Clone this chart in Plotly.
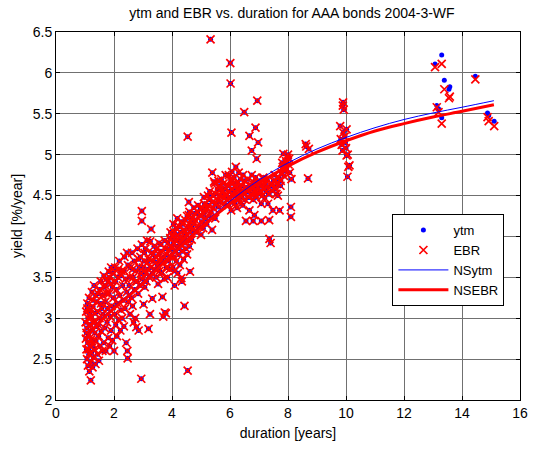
import plotly.graph_objects as go

# ---- scatter data (duration [years], yield [%/year]) ----
dur_a = [1.02,1.03,1.04,1.05,1.06,1.07,1.08,1.09,1.10,1.11,1.12,1.13,1.14,1.15,1.16,1.17,1.18,1.19,1.20,1.21,1.22,1.23,1.24,1.25,1.26,1.27,1.28,1.29,1.30,1.31,1.32,1.34,1.35,1.36,1.38,1.40,1.41,1.43,1.45,1.47,1.48,1.50,1.52,1.54,1.56,1.58,1.60]
yld_a = [2.95,2.75,3.08,2.62,2.88,2.50,3.18,2.70,2.42,3.00,2.80,2.56,3.25,2.35,2.92,2.66,3.10,2.46,2.24,2.74,3.02,2.58,3.32,2.86,2.40,2.68,3.14,2.52,2.96,3.40,2.62,2.82,3.06,2.44,2.72,3.20,2.90,2.56,3.30,2.78,2.48,3.00,2.66,3.45,2.84,3.12,2.60]

dur_b = [1.62,1.64,1.66,1.68,1.70,1.72,1.74,1.76,1.78,1.80,1.82,1.83,1.85,1.87,1.89,1.90,1.92,1.94,1.96,1.98,2.00,2.02,2.04,2.06,2.08,2.10,2.12,2.14,2.16,2.18,2.20,2.22,2.24,2.26,2.28,2.30,2.32,2.34,2.36,2.38,2.40,2.42,2.44,2.46,2.47,2.48,2.50]
yld_b = [3.05,2.70,3.38,2.88,3.20,2.60,3.48,2.95,3.12,2.76,3.57,3.30,2.66,3.02,3.42,2.85,3.15,2.73,3.55,3.25,2.60,3.05,3.62,2.92,3.35,2.78,3.18,3.50,2.98,3.70,3.28,2.85,3.10,3.58,3.00,3.40,3.22,2.90,3.75,3.12,3.48,2.70,3.32,2.60,2.51,3.65,3.20]

dur_c = [2.52,2.55,2.57,2.60,2.62,2.64,2.66,2.68,2.70,2.71,2.73,2.75,2.77,2.79,2.81,2.83,2.85,2.87,2.89,2.91,2.93,2.94,2.96,2.96,2.96,2.98,3.00,3.02,3.04,3.06,3.08,3.10,3.12,3.14,3.16,3.19,3.20,3.22,3.24,3.25,3.26,3.28,3.30,3.32,3.33,3.35,3.38]
yld_c = [3.40,3.05,3.62,3.25,3.80,3.15,3.50,2.95,3.70,3.35,3.00,3.58,2.89,3.45,3.85,3.30,2.85,3.62,3.40,3.75,3.55,2.26,4.31,4.19,3.90,3.48,3.62,3.17,3.70,3.38,3.85,3.55,3.45,3.95,3.60,2.87,3.72,3.50,3.05,3.94,3.62,4.09,3.80,3.24,3.55,3.70,3.88]

dur_d = [3.40,3.42,3.45,3.47,3.50,3.52,3.55,3.57,3.60,3.62,3.62,3.64,3.67,3.68,3.70,3.72,3.74,3.75,3.77,3.79,3.80,3.82,3.84,3.86,3.88,3.90,3.92,3.94,3.96,3.98]
yld_d = [3.60,3.75,3.50,3.85,3.65,3.42,3.78,3.58,3.70,3.90,3.82,3.55,3.26,3.68,3.02,3.75,3.48,3.07,3.85,3.06,3.62,3.78,3.50,3.92,3.70,3.84,3.60,3.98,3.75,3.88]

dur_e = [4.00,4.02,4.03,4.05,4.07,4.08,4.09,4.10,4.12,4.14,4.15,4.17,4.19,4.20,4.22,4.24,4.25,4.27,4.29,4.30,4.32,4.34,4.35,4.37,4.39,4.40,4.42,4.43,4.44,4.46,4.48,4.50,4.52,4.54,4.55,4.57,4.58,4.58,4.60,4.62,4.63,4.65,4.68,4.70,4.72,4.75,4.78,4.54]
yld_e = [3.85,4.00,3.62,3.92,3.75,4.05,3.40,3.58,3.95,4.10,3.70,3.88,4.02,3.55,3.96,3.78,4.12,3.65,3.90,4.05,3.49,3.45,3.82,4.15,3.98,3.72,4.08,3.15,3.92,4.20,3.85,4.02,3.78,2.36,4.12,3.95,4.42,4.26,3.88,3.57,4.05,4.18,3.96,4.22,4.08,4.15,4.28,5.22]

dur_f = [4.80,4.84,4.88,4.92,4.95,4.98,5.00,5.02,5.05,5.08,5.10,5.12,5.15,5.18,5.20,5.24,5.25,5.28,5.30,5.33,5.35,5.38,5.39,5.40,5.42,5.45,5.47,5.49,5.50,5.53,5.56,5.58,5.60,5.63,5.65,5.68,5.70,5.73,5.75,5.78,5.80,5.83,5.85,5.88]
yld_f = [4.20,4.05,4.30,4.12,4.26,4.34,4.02,4.18,4.35,4.10,4.28,4.40,4.22,4.32,4.15,4.50,4.38,4.25,4.45,6.41,4.30,4.08,4.78,4.42,4.35,4.67,4.65,4.22,4.52,4.40,4.58,4.45,4.36,4.62,4.50,4.42,4.70,4.55,4.48,4.65,4.40,4.58,4.75,4.50]

dur_g = [5.90,5.92,5.94,5.96,5.98,6.00,6.01,6.02,6.03,6.04,6.05,6.06,6.07,6.08,6.10,6.12,6.14,6.16,6.18,6.20,6.22,6.24,6.26,6.28,6.30,6.32,6.34,6.36,6.38,6.40,6.42,6.44,6.46,6.49,6.50,6.52,6.55,6.58]
yld_g = [4.45,4.62,4.38,4.75,4.55,4.48,6.12,5.87,4.68,4.32,5.27,4.58,4.79,4.42,4.65,4.50,4.72,4.40,4.60,4.85,4.52,4.35,4.66,4.46,4.78,4.58,4.42,4.70,4.55,4.48,4.62,4.38,4.52,5.52,4.68,4.45,4.19,4.60]

dur_h = [6.60,6.62,6.65,6.67,6.67,6.70,6.72,6.75,6.75,6.78,6.80,6.80,6.82,6.84,6.86,6.88,6.88,6.90,6.92,6.94,6.95,6.97,7.00,7.02,7.05,7.08,7.08,7.10,7.12,7.15,7.18,7.20,7.22,7.25,7.28,7.31,7.33,7.35,7.36,7.40,7.42,7.45,7.48,7.50,7.54,7.56,7.60,7.63,7.65,7.68,7.71,7.74,7.78,7.80,7.82,7.84,7.86,7.88,7.90,7.93,7.95,7.98,8.00,8.02,8.04,8.06,8.10,8.10,8.12]
yld_h = [4.55,4.70,4.48,5.23,4.32,4.62,4.52,5.05,4.75,4.58,4.19,4.45,4.66,4.26,4.55,5.33,4.72,4.48,4.95,5.66,4.60,5.15,4.52,4.68,4.56,4.19,4.40,4.62,4.50,4.72,4.58,4.47,4.64,4.55,4.70,4.40,4.52,4.20,3.97,3.92,4.62,4.56,4.32,4.68,4.75,4.60,4.52,4.66,4.50,4.72,4.32,4.62,4.78,4.90,4.85,5.01,4.74,4.87,4.80,4.92,4.83,4.96,5.00,4.88,4.95,4.78,4.36,4.24,4.70]

dur_i = [8.61,8.63,8.69,8.72,9.80,9.82,9.85,9.88,9.89,9.90,9.91,9.92,9.95,9.98,10.00,10.02,10.02,10.05,10.06,10.08,10.12]
yld_i = [5.13,5.10,4.71,5.07,5.35,5.19,5.12,5.05,5.60,5.64,5.27,5.55,5.22,5.15,5.08,5.31,4.99,4.73,5.00,4.85,4.87]

# extra points in the densest bands
dur_j = [1.05,1.08,1.12,1.16,1.20,1.24,1.28,1.33,1.37,1.42,1.46,1.51,1.55,1.60,1.65,1.70,1.75,1.80,1.85,1.90,1.95,2.05,2.15,2.25,2.35,2.45]
yld_j = [2.82,3.12,2.62,3.05,2.92,2.72,3.22,2.95,3.28,3.08,2.92,3.35,3.18,3.28,3.52,3.40,3.30,3.45,3.50,3.62,3.38,3.45,3.60,3.52,3.58,3.80]

dur_k = [2.55,2.65,2.75,2.85,2.95,3.05,3.15,3.25,3.35,3.45,3.55,3.65,3.75,3.85,3.95,4.05,4.12,4.18,4.25,4.32,4.38,4.45,4.52,4.60,4.68,4.75]
yld_k = [3.50,3.60,3.45,3.72,3.55,3.80,3.68,3.52,3.78,3.68,3.92,3.72,3.95,3.62,4.05,4.15,3.82,4.22,3.85,4.18,3.95,4.05,4.25,4.30,4.12,4.35]

dur_l = [4.90,5.00,5.10,5.20,5.30,5.40,5.50,5.60,5.70,5.80,5.95,6.05,6.15,6.25,6.35,6.45,6.55,6.65,6.75,6.85,6.95,7.05,7.15,7.25,7.35,7.45,7.55,7.65,7.75,7.85,7.95]
yld_l = [4.38,4.25,4.48,4.35,4.55,4.50,4.40,4.68,4.58,4.52,4.62,4.70,4.55,4.48,4.60,4.75,4.58,4.48,4.62,4.52,4.66,4.55,4.70,4.60,4.52,4.64,4.58,4.72,4.68,4.82,4.90]

# long bonds: ytm and EBR visibly differ
dur_long = [13.07,13.13,13.19,13.30,13.30,13.39,13.55,13.58,14.46,14.88,14.92,15.11]
ytm_long = [6.11,5.60,5.56,6.22,5.45,5.91,5.80,5.83,5.96,5.51,5.48,5.41]
ebr_long = [6.07,5.58,5.52,6.11,5.38,5.80,5.69,5.71,5.92,5.46,5.41,5.35]

# Nelson-Siegel fitted curves (knots)
ns_dur  = [1.0, 1.5, 2.0, 2.5, 3.0, 4.0, 5.0, 6.0, 7.0, 8.0, 9.0, 10.0, 11.0, 12.0, 13.0, 14.0, 15.1]
ns_ytm  = [2.76, 2.97, 3.14, 3.29, 3.45, 3.80, 4.13, 4.43, 4.69, 4.90, 5.07, 5.21, 5.33, 5.43, 5.51, 5.58, 5.66]
ns_ebr  = [2.74, 2.95, 3.12, 3.27, 3.43, 3.78, 4.11, 4.40, 4.65, 4.86, 5.03, 5.17, 5.29, 5.38, 5.46, 5.53, 5.61]

dur_short = dur_a + dur_b + dur_c + dur_d + dur_e + dur_f + dur_g + dur_h + dur_i + dur_j + dur_k + dur_l
yld_short = yld_a + yld_b + yld_c + yld_d + yld_e + yld_f + yld_g + yld_h + yld_i + yld_j + yld_k + yld_l

dur_all = dur_short + dur_long
ytm_all = yld_short + ytm_long
ebr_all = yld_short + ebr_long

FONT = "Liberation Sans, Arial, sans-serif"
BLUE = "#0000ff"
RED = "#ff0000"

fig = go.Figure()
fig.add_trace(go.Scatter(x=dur_all, y=ytm_all, mode="markers", name="ytm",
                         marker=dict(symbol="circle", size=5, color=BLUE, line=dict(width=0))))
fig.add_trace(go.Scatter(x=dur_all, y=ebr_all, mode="markers", name="EBR",
                         marker=dict(symbol="x-thin-open", size=8, color=RED,
                                     line=dict(width=1.7, color=RED))))
fig.add_trace(go.Scatter(x=ns_dur, y=ns_ytm, mode="lines", name="NSytm",
                         line=dict(color=BLUE, width=1, shape="spline")))
fig.add_trace(go.Scatter(x=ns_dur, y=ns_ebr, mode="lines", name="NSEBR",
                         line=dict(color=RED, width=3, shape="spline")))

axis_common = dict(showline=True, linecolor="black", linewidth=1, mirror="allticks",
                   ticks="inside", ticklen=4, tickcolor="black",
                   showgrid=True, gridcolor="#707070", gridwidth=1, zeroline=False,
                   tickfont=dict(family=FONT, size=14, color="black"))

fig.update_layout(
    width=538, height=449,
    margin=dict(l=56, r=10, t=32, b=46),
    paper_bgcolor="white", plot_bgcolor="white",
    title=dict(text="ytm and EBR vs. duration for AAA bonds 2004-3-WF",
               x=(56 + 528) / 2 / 538, xanchor="center", y=1 - 13 / 449, yanchor="middle",
               font=dict(family=FONT, size=14, color="black")),
    xaxis=dict(range=[0, 16], dtick=2, tick0=0,
               title=dict(text="duration [years]", font=dict(family=FONT, size=14, color="black"), standoff=8),
               **axis_common),
    yaxis=dict(range=[2, 6.5], dtick=0.5, tick0=2,
               title=dict(text="yield [%/year]", font=dict(family=FONT, size=14, color="black"), standoff=6),
               **axis_common),
    legend=dict(x=0.725, y=0.505, xanchor="left", yanchor="top",
                bgcolor="white", bordercolor="black", borderwidth=1,
                font=dict(family=FONT, size=13, color="black"),
                itemwidth=50, tracegroupgap=0),
    showlegend=True,
)

fig.write_html("out.html")
